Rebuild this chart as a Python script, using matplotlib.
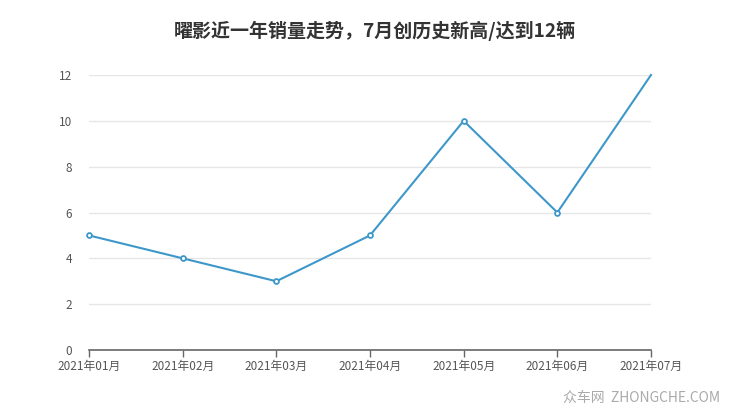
import matplotlib
matplotlib.use("Agg")
import matplotlib.pyplot as plt

plt.rcParams['font.family'] = ['Noto Sans CJK SC', 'DejaVu Sans']

months = ["2021年01月", "2021年02月", "2021年03月", "2021年04月", "2021年05月", "2021年06月", "2021年07月"]
sales = [5, 4, 3, 5, 10, 6, 12]
yticks = [0, 2, 4, 6, 8, 10, 12]
title = "曜影近一年销量走势，7月创历史新高/达到12辆"

fig = plt.figure(figsize=(7.4, 4.17), dpi=100)
ax = fig.add_axes([89/740, 1-350/417, (651-89)/740, (350-75)/417])

x = list(range(len(months)))
ax.plot(x, sales, color='#3d98c9', linewidth=1.5, marker='o', markersize=3.5,
        markevery=list(range(len(months)-1)),
        markerfacecolor='white', markeredgecolor='#3d98c9', markeredgewidth=1.3, zorder=3, clip_on=False)

ax.set_xlim(0, len(months)-1)
ax.set_ylim(0, 12)
ax.set_yticks(yticks)
ax.set_yticklabels([str(v) for v in yticks])
ax.set_xticks(x)
ax.set_xticklabels(months)
ax.grid(axis='y', color='#e6e6e6', linewidth=1)
ax.set_axisbelow(True)
for s in ['top', 'right', 'left']:
    ax.spines[s].set_visible(False)
ax.spines['bottom'].set_color('#666666')
ax.spines['bottom'].set_linewidth(1.2)
ax.tick_params(axis='y', length=0, pad=12, labelsize=8.5, labelcolor='#555555')
ax.tick_params(axis='x', length=5, color='#666666', width=1, pad=2, labelsize=8.5, labelcolor='#555555')

fig.text(375/740, 1-31/417, title, ha='center', va='center', fontsize=13.7, fontweight='bold', color='#333333')
fig.text(720/740, 1-398/417, "众车网  ZHONGCHE.COM", ha='right', va='center', fontsize=10, color='#aaaaaa')

fig.savefig('out.png', dpi=100)
